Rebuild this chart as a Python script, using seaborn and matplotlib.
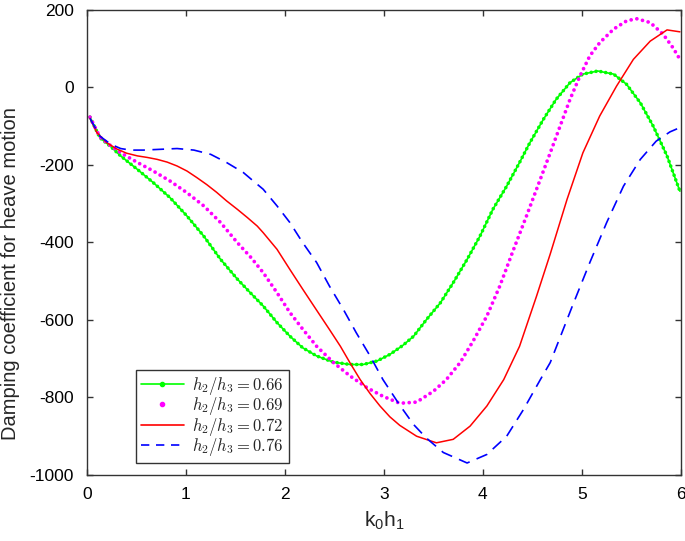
import matplotlib

matplotlib.use("Agg")
import matplotlib.pyplot as plt
import pandas as pd
import seaborn as sns
from matplotlib.lines import Line2D

# Values (k0*h1, damping coefficient)
x_066 = [0.03, 0.13, 0.24, 0.34, 0.51, 0.67, 0.84, 1.01, 1.18, 1.35, 1.52, 1.65,
         1.78, 1.92, 2.05, 2.18, 2.32, 2.49, 2.66, 2.79, 2.93, 3.06, 3.19, 3.30,
         3.43, 3.57, 3.70, 3.84, 3.97, 4.10, 4.24, 4.37, 4.47, 4.61, 4.74, 4.88,
         5.01, 5.16, 5.32, 5.45, 5.59, 5.72, 5.86, 5.99]
y_066 = [-77, -130, -153, -177, -212, -246, -285, -332, -384, -444, -495, -530,
         -564, -607, -642, -672, -693, -709, -715, -715, -706, -689, -666, -642,
         -599, -556, -504, -444, -384, -315, -255, -194, -145, -83, -31, 12,
         34, 42, 34, 8, -40, -100, -177, -268]

x_069 = [0.03, 0.13, 0.24, 0.34, 0.51, 0.67, 0.84, 1.01, 1.18, 1.35, 1.52, 1.66,
         1.78, 1.92, 2.05, 2.18, 2.32, 2.49, 2.66, 2.83, 2.99, 3.16, 3.33, 3.50,
         3.63, 3.77, 3.90, 4.04, 4.17, 4.31, 4.44, 4.58, 4.68, 4.78, 4.88, 4.98,
         5.08, 5.18, 5.32, 5.45, 5.55, 5.69, 5.82, 5.92, 6.00]
y_069 = [-77, -128, -151, -169, -194, -216, -242, -272, -306, -349, -401, -440,
         -478, -530, -581, -624, -668, -710, -745, -775, -797, -815, -812, -784,
         -754, -710, -655, -590, -513, -418, -332, -237, -169, -100, -31, 29,
         81, 115, 150, 171, 177, 167, 137, 102, 68]

x_072 = [0.03, 0.10, 0.20, 0.30, 0.40, 0.51, 0.61, 0.71, 0.81, 0.91, 1.01, 1.11,
         1.21, 1.31, 1.41, 1.52, 1.62, 1.72, 1.78, 1.92, 2.05, 2.18, 2.32, 2.45,
         2.56, 2.66, 2.76, 2.86, 2.96, 3.06, 3.16, 3.33, 3.53, 3.70, 3.87, 4.04,
         4.21, 4.37, 4.54, 4.68, 4.85, 5.01, 5.18, 5.35, 5.52, 5.69, 5.86, 5.99]
y_072 = [-80, -117, -143, -159, -170, -177, -181, -186, -193, -203, -216, -233,
         -251, -271, -293, -315, -336, -358, -375, -418, -470, -521, -575, -625,
         -668, -712, -754, -790, -822, -850, -872, -900, -917, -908, -874, -822,
         -754, -668, -540, -430, -289, -169, -74, 3, 72, 119, 148, 143]

x_076 = [0.03, 0.13, 0.24, 0.34, 0.44, 0.57, 0.74, 0.91, 1.08, 1.25, 1.41, 1.58,
         1.70, 1.78, 1.92, 2.05, 2.18, 2.32, 2.45, 2.59, 2.72, 2.86, 2.99, 3.16,
         3.30, 3.43, 3.60, 3.84, 4.04, 4.24, 4.41, 4.58, 4.68, 4.91, 5.08, 5.25,
         5.42, 5.59, 5.75, 5.89, 5.99]
y_076 = [-80, -126, -147, -158, -162, -162, -160, -158, -162, -173, -194, -220,
         -246, -263, -306, -349, -401, -452, -513, -573, -633, -693, -754, -820,
         -870, -905, -942, -969, -947, -900, -831, -754, -710, -560, -452, -349,
         -255, -186, -139, -115, -104]

labels = [r"$h_2/h_3 = 0.66$", r"$h_2/h_3 = 0.69$",
          r"$h_2/h_3 = 0.72$", r"$h_2/h_3 = 0.76$"]
y_ticks = [-1000, -800, -600, -400, -200, 0, 200]

sns.set_style("ticks")
plt.rcParams.update(
    {
        "font.family": ["Liberation Sans", "DejaVu Sans"],
        "mathtext.fontset": "cm",
        "axes.unicode_minus": False,
        "xtick.direction": "in",
        "ytick.direction": "in",
        "xtick.top": True,
        "ytick.right": True,
        "axes.edgecolor": "#333333",
        "xtick.color": "#333333",
        "ytick.color": "#333333",
        "xtick.labelcolor": "black",
        "ytick.labelcolor": "black",
    }
)

figure = plt.figure(figsize=(6.85, 5.41), dpi=100)
axis = figure.add_axes([0.127, 0.122, 0.867, 0.86])

data_066 = pd.DataFrame({"x": x_066, "y": y_066})
data_069 = pd.DataFrame({"x": x_069, "y": y_069})
data_072 = pd.DataFrame({"x": x_072, "y": y_072})
data_076 = pd.DataFrame({"x": x_076, "y": y_076})

# green: thin line with dense dots on it
sns.lineplot(data=data_066, x="x", y="y", ax=axis, color="#00ff00",
             linewidth=1.2, sort=False, estimator=None)
dotted = sns.lineplot(data=data_066, x="x", y="y", ax=axis, color="#00ff00",
                      linewidth=1.0, sort=False, estimator=None).lines[-1]
dotted.set_linewidth(2.6)
dotted.set_linestyle((0, (0.01, 1.35)))
dotted.set_dash_capstyle("round")
# magenta: dots only
dots = sns.lineplot(data=data_069, x="x", y="y", ax=axis, color="#ff00ff",
                    linewidth=1.0, sort=False, estimator=None).lines[-1]
dots.set_linewidth(2.7)
dots.set_linestyle((0, (0.01, 1.55)))
dots.set_dash_capstyle("round")
# red: solid
sns.lineplot(data=data_072, x="x", y="y", ax=axis, color="#ff0000",
             linewidth=1.1, sort=False, estimator=None)
# blue: dashed
dashed = sns.lineplot(data=data_076, x="x", y="y", ax=axis, color="#0000ff",
                      linewidth=1.2, sort=False, estimator=None).lines[-1]
dashed.set_linestyle((0, (7, 4.5)))

axis.set_xlim(0, 6)
axis.set_ylim(-1000, 200)
axis.set_yticks(y_ticks)
axis.set_xticks(range(7))
axis.tick_params(labelsize=12.5, length=4, width=1)
axis.tick_params(axis="x", pad=8.5)
axis.tick_params(axis="y", pad=9.5)
for spine in axis.spines.values():
    spine.set_linewidth(1.0)
axis.set_xlabel(r"$\mathregular{k_0h_1}$", fontsize=15, labelpad=6)
axis.set_ylabel("Damping coefficient for heave motion", fontsize=14.5)
axis.yaxis.set_label_coords(-0.113, 0.434)

handles = [
    Line2D([], [], color="#00ff00", linewidth=1.2, marker=".", markersize=6),
    Line2D([], [], color="#ff00ff", linestyle="none", marker=".", markersize=6),
    Line2D([], [], color="#ff0000", linewidth=1.2),
    Line2D([], [], color="#0000ff", linewidth=1.2, linestyle=(0, (5, 4))),
]
legend = axis.legend(
    handles,
    labels,
    loc="lower left",
    bbox_to_anchor=(0.082, 0.026),
    fontsize=12,
    handlelength=2.6,
    handletextpad=0.5,
    labelspacing=-0.1,
    borderpad=0.3,
    borderaxespad=0,
    fancybox=False,
    framealpha=1,
    edgecolor="#333333",
    numpoints=1,
)
legend.get_frame().set_linewidth(1.0)

figure.savefig("out.png", dpi=100)
